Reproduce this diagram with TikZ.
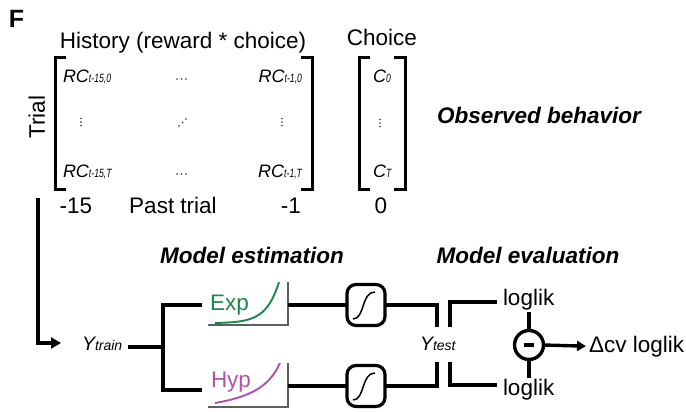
\documentclass[tikz,border=0pt]{standalone}
\usepackage{fontspec}
\setmainfont{Liberation Sans}
\usepackage{graphicx}
\usetikzlibrary{arrows.meta}
\definecolor{expgreen}{RGB}{28,135,70}
\definecolor{hypmag}{RGB}{178,80,168}
\definecolor{axgray}{RGB}{95,95,95}
\newcommand\msz{\fontsize{22.5}{26}\selectfont}
\newcommand\esz{\fontsize{18}{20}\selectfont}
\newcommand\ssz{\fontsize{12}{14}\selectfont}
\newcommand\mysub[1]{\scalebox{0.72}[1]{\ssz #1}}
\begin{document}
\begin{tikzpicture}[x=1pt,y=-1pt,
  every node/.style={inner sep=0pt,outer sep=0pt},
  txt/.style={font=\msz},
  bi/.style={font=\msz\bfseries\itshape},
  ent/.style={font=\esz\itshape},
  ln/.style={line width=3.4pt},
  brk/.style={line width=3pt},
  axl/.style={line width=2.2pt,draw=axgray},
  sig/.style={draw,line width=3.2pt,rounded corners=9pt,minimum width=38pt,minimum height=41pt,
    path picture={\draw[line width=1.5pt] ([shift={(-13pt,-14pt)}]path picture bounding box.center)
      .. controls ([shift={(-1pt,-14pt)}]path picture bounding box.center) and ([shift={(-5pt,13pt)}]path picture bounding box.center)
      .. ([shift={(9pt,13pt)}]path picture bounding box.center);}},
  dot/.style={fill=black!80,circle,minimum size=1.9pt}
]
\useasboundingbox (0,0) rectangle (686,412);

% panel letter and headers
\node[anchor=base west,font=\fontsize{25}{28}\selectfont\bfseries] (F) at (9,28) {F};
\node[txt,anchor=base] (hist) at (183,49) {History (reward * choice)};
\node[txt,anchor=base] (choice) at (382,46) {Choice};
\node[txt,anchor=base,rotate=90] (trial) at (45,117) {Trial};

% brackets
\draw[brk] (66,58) -- (55,58) -- (55,189) -- (66,189);
\draw[brk] (301,58) -- (312,58) -- (312,189) -- (301,189);
\draw[brk] (370,58) -- (359,58) -- (359,189) -- (370,189);
\draw[brk] (394,58) -- (405,58) -- (405,189) -- (394,189);

% matrix entries
\node[ent,anchor=base west] (rc11) at (63,82) {RC\mysub{t-15,0}};
\node[ent,anchor=base east] (rc12) at (302,82) {RC\mysub{t-1,0}};
\node[ent,anchor=base west] (rc21) at (63,177) {RC\mysub{t-15,T}};
\node[ent,anchor=base east] (rc22) at (302,177) {RC\mysub{t-1,T}};
\node[ent,anchor=base west] (c0) at (373,82) {C\mysub{0}};
\node[ent,anchor=base west] (ct) at (373,177) {C\mysub{T}};
\foreach \i in {0,1,2}{
  \node[dot] at ({177+4.5*\i},79) {};
  \node[dot] at ({177+4.5*\i},174) {};
  \node[dot] at (81,{118.5+3.5*\i}) {};
  \node[dot] at (282,{118.5+3.5*\i}) {};
  \node[dot] at (380,{119.5+3.5*\i}) {};
  \node[dot] at ({179+3.5*\i},{126-3.5*\i}) {};
}

% axis labels
\node[txt,anchor=base] (m15) at (76,213) {-15};
\node[txt,anchor=base] (past) at (173,213) {Past trial};
\node[txt,anchor=base] (m1) at (291,213) {-1};
\node[txt,anchor=base] (zero) at (381,213) {0};
\node[bi,anchor=base west] (obs) at (437,123) {Observed behavior};

% model section headers
\node[bi,anchor=base] (mest) at (252,263) {Model estimation};
\node[bi,anchor=base] (meval) at (528,263) {Model evaluation};

% Y train
\node[anchor=base west] (ytr) at (82,350) {{\fontsize{19.5}{22}\selectfont\itshape Y}{\fontsize{14}{16}\selectfont\itshape train}};
\coordinate (src) at (38,198);
\coordinate (arrend) at (61,343);
\draw[ln,-{Triangle[length=10pt,width=11pt]}] (src) |- (arrend);

% branch
\coordinate (ytrout) at (128,347);
\coordinate (br) at (163,347);
\coordinate (bt) at (202,305);
\coordinate (bb) at (202,390);
\draw[ln] (ytrout) -- (br);
\draw[ln] (bt) -| (br) |- (bb);

% Exp model
\node[txt,anchor=base west,text=expgreen] (exp) at (210,310) {Exp};
\draw[axl] (208,325) -- (288,325) -- (288,282);
\draw[line width=1.9pt,expgreen] plot[domain=0:1,samples=40,smooth] ({215+64*\x},{323-41*(exp(5*\x)-1)/(exp(5)-1)});
% Hyp model
\node[txt,anchor=base west,text=hypmag] (hyp) at (211,387) {Hyp};
\draw[axl] (208,407) -- (288,407) -- (288,363);
\draw[line width=1.9pt,hypmag] plot[domain=0:1,samples=40,smooth] ({215+65*\x},{403-40*(1/(1-0.72*\x)-1)/(1/(1-0.72)-1)});

% sigmoid boxes
\node[sig] (s1) at (366,305) {};
\node[sig] (s2) at (366,386) {};
\coordinate (e1) at (288,305);
\coordinate (e2) at (288,386);
\draw[ln] (e1) -- (s1.west);
\draw[ln] (e2) -- (s2.west);

% Y test
\node[anchor=base west] (yte) at (420,350) {{\fontsize{19.5}{22}\selectfont\itshape Y}{\fontsize{14}{16}\selectfont\itshape test}};
\coordinate (t1) at (437,327);
\coordinate (t2) at (437,362);
\draw[ln] (s1.east) -| (t1);
\draw[ln] (s2.east) -| (t2);

% loglik
\node[txt,anchor=base west] (ll1) at (503,305) {loglik};
\node[txt,anchor=base west] (ll2) at (503,395) {loglik};
\coordinate (u1) at (450,327);
\coordinate (u2) at (450,362);
\coordinate (l1) at (497,302);
\coordinate (l2) at (497,385);
\draw[ln] (u1) |- (l1);
\draw[ln] (u2) |- (l2);

% minus circle
\node[circle,draw,line width=3.4pt,minimum size=29pt] (mn) at (529,345) {};
\draw[line width=3.4pt] ([xshift=-5pt]mn.center) -- ([xshift=5pt]mn.center);
\draw[ln] (529,312) -- (mn.north);
\draw[ln] (mn.south) -- (529,378);
\node[txt,anchor=base west] (dcv) at (589,352) {Δcv loglik};
\draw[ln,-{Triangle[length=9pt,width=10pt]}] (mn.east) -- ([xshift=-3pt]dcv.west);
\end{tikzpicture}
\end{document}
